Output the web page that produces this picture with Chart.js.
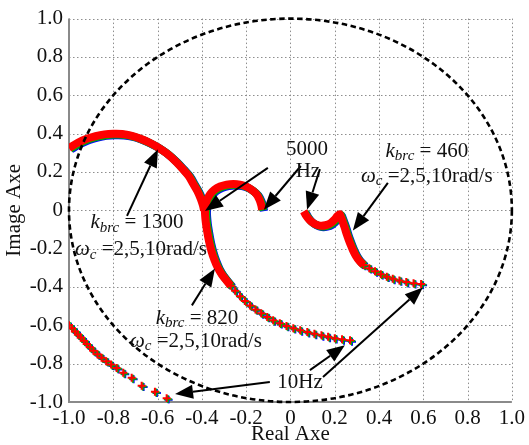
<!DOCTYPE html>
<html>
<head>
<meta charset="utf-8">
<script src="https://cdn.jsdelivr.net/npm/chart.js@4"></script>
<style>
  html, body { margin: 0; padding: 0; background: #fff; }
</style>
</head>
<body>
<canvas id="nyquist" width="529" height="445"></canvas>
<script>
// tick values shared by both axes
var axisTicks = [-1.0, -0.8, -0.6, -0.4, -0.2, 0, 0.2, 0.4, 0.6, 0.8, 1.0];

// kbrc = 1300 : sparse low-frequency part (ends at 10Hz) and dense arc (ends at 5000Hz)
var tail1300 = [[-1.0,-0.600],[-0.987,-0.615],[-0.973,-0.632],[-0.96,-0.648],[-0.947,-0.664],[-0.933,-0.68],[-0.92,-0.698],[-0.905,-0.715],[-0.89,-0.733],[-0.872,-0.751],[-0.853,-0.769],[-0.832,-0.787],[-0.81,-0.805],[-0.785,-0.823],[-0.755,-0.848],[-0.717,-0.874],[-0.672,-0.915],[-0.612,-0.946],[-0.559,-0.981]];
var arc1300 = [[-1.0,0.325],[-0.96,0.352],[-0.92,0.373],[-0.88,0.387],[-0.84,0.396],[-0.8,0.399],[-0.76,0.398],[-0.72,0.39],[-0.68,0.375],[-0.64,0.355],[-0.6,0.33],[-0.56,0.298],[-0.52,0.257],[-0.49,0.22],[-0.46,0.18],[-0.44,0.14],[-0.42,0.10],[-0.405,0.06],[-0.395,0.025],[-0.39,0.0]];

// kbrc = 820
var tail820 = [[0.269,-0.678],[0.233,-0.673],[0.2,-0.667],[0.17,-0.66],[0.14,-0.652],[0.108,-0.644],[0.076,-0.635],[0.044,-0.626],[0.013,-0.615],[-0.018,-0.603],[-0.048,-0.589],[-0.078,-0.574],[-0.105,-0.556],[-0.132,-0.537],[-0.158,-0.517],[-0.183,-0.496],[-0.206,-0.473],[-0.228,-0.448],[-0.25,-0.42],[-0.27,-0.393]];
var arc820 = [[-0.27,-0.393],[-0.29,-0.365],[-0.31,-0.335],[-0.328,-0.3],[-0.343,-0.26],[-0.356,-0.215],[-0.367,-0.165],[-0.376,-0.11],[-0.383,-0.055],[-0.386,0.0],[-0.38,0.045],[-0.363,0.084],[-0.343,0.108],[-0.318,0.124],[-0.288,0.134],[-0.258,0.137],[-0.228,0.134],[-0.198,0.123],[-0.173,0.105],[-0.153,0.083],[-0.14,0.055],[-0.132,0.028],[-0.128,0.003]];

// kbrc = 460
var tail460 = [[0.59,-0.384],[0.556,-0.38],[0.523,-0.374],[0.492,-0.366],[0.462,-0.357],[0.435,-0.346],[0.408,-0.333],[0.382,-0.318],[0.356,-0.302],[0.33,-0.285]];
var arc460 = [[0.33,-0.285],[0.31,-0.262],[0.295,-0.237],[0.283,-0.21],[0.272,-0.18],[0.262,-0.15],[0.254,-0.124],[0.245,-0.09],[0.236,-0.06],[0.228,-0.035],[0.222,-0.02],[0.212,-0.03],[0.198,-0.05],[0.18,-0.068],[0.158,-0.078],[0.133,-0.08],[0.108,-0.07],[0.088,-0.053],[0.072,-0.03],[0.06,-0.005]];

var curves = [
  { name: "kbrc=1300", tail: tail1300, arc: arc1300 },
  { name: "kbrc=820", tail: tail820, arc: arc820 },
  { name: "kbrc=460", tail: tail460, arc: arc460 }
];
var omegaC = ["10rad/s", "5rad/s", "2rad/s"];
var traceColors = ["#ff0000", "#00b000", "#0000ff"];
var traceShift = [[0, 0], [1.2, 0.8], [2, 1.4]];

var SERIF = "'Liberation Serif', 'Times New Roman', serif";

function toPts(arr) {
  return arr.map(function (p) { return { x: p[0], y: p[1] }; });
}

var datasets = [];
omegaC.forEach(function (w, i) {
  curves.forEach(function (c) {
    datasets.push({
      label: c.name + " " + w,
      data: toPts(c.arc),
      showLine: true,
      borderColor: traceColors[i],
      borderWidth: 8,
      tension: 0.3,
      pointRadius: 0,
      shift: traceShift[i]
    });
    datasets.push({
      label: c.name + " " + w + " markers",
      data: toPts(c.tail),
      showLine: false,
      pointStyle: "cross",
      pointRadius: 4,
      borderWidth: 2,
      borderColor: traceColors[i],
      backgroundColor: traceColors[i],
      shift: traceShift[i]
    });
  });
});

// small pixel offset so the three overlapping traces show as colour fringes
var shiftPlugin = {
  id: "shift",
  beforeDatasetDraw: function (chart, args) {
    var s = chart.data.datasets[args.index].shift;
    chart.ctx.save();
    if (s) chart.ctx.translate(s[0], s[1]);
  },
  afterDatasetDraw: function (chart) {
    chart.ctx.restore();
  }
};

// dotted grid, drawn at the axis ticks
var gridPlugin = {
  id: "dotgrid",
  beforeDatasetsDraw: function (chart) {
    var ctx = chart.ctx, a = chart.chartArea, xs = chart.scales.x, ys = chart.scales.y;
    ctx.save();
    ctx.strokeStyle = "#8e8e8e";
    ctx.lineWidth = 1;
    ctx.setLineDash([1.5, 2.5]);
    axisTicks.forEach(function (v) {
      var px = Math.round(xs.getPixelForValue(v)) + 0.5;
      var py = Math.round(ys.getPixelForValue(v)) + 0.5;
      ctx.beginPath();
      ctx.moveTo(px, a.top);
      ctx.lineTo(px, a.bottom);
      ctx.moveTo(a.left, py);
      ctx.lineTo(a.right, py);
      ctx.stroke();
    });
    // solid left and bottom axis lines
    ctx.setLineDash([]);
    ctx.strokeStyle = "#8a8a8a";
    ctx.lineWidth = 2;
    ctx.beginPath();
    ctx.moveTo(a.left, a.top);
    ctx.lineTo(a.left, a.bottom);
    ctx.lineTo(a.right, a.bottom);
    ctx.stroke();
    ctx.restore();
  }
};

// notes: text and arrows placed in data units
var notes = [
  { at: [-0.693, -0.065], parts: [["k", 1], ["brc", 3], [" = 1300", 0]] },
  { at: [-0.675, -0.205], parts: [["\u03c9", 1], ["c", 3], [" =2,5,10rad/s", 0]] },
  { at: [-0.422, -0.564], parts: [["k", 1], ["brc", 3], [" = 820", 0]] },
  { at: [-0.427, -0.683], parts: [["\u03c9", 1], ["c", 3], [" =2,5,10rad/s", 0]] },
  { at: [0.616, 0.309], parts: [["k", 1], ["brc", 3], [" = 460", 0]] },
  { at: [0.616, 0.179], parts: [["\u03c9", 1], ["c", 3], [" =2,5,10rad/s", 0]] },
  { at: [0.0745, 0.319], parts: [["5000", 0]] },
  { at: [0.079, 0.205], parts: [["Hz", 0]] },
  { at: [0.043, -0.896], parts: [["10Hz", 0]] }
];
var arrows = [
  [[-0.738, -0.029], [-0.598, 0.319]],
  [[-0.445, -0.496], [-0.341, -0.304]],
  [[0.44, 0.143], [0.282, -0.106]],
  [[-0.102, 0.221], [-0.386, -0.003]],
  [[0.047, 0.231], [-0.12, 0.003]],
  [[0.133, 0.215], [0.075, 0.003]],
  [[-0.093, -0.896], [-0.521, -0.958]],
  [[0.088, -0.834], [0.246, -0.704]],
  [[0.147, -0.87], [0.598, -0.403]]
];

var notesPlugin = {
  id: "notes",
  afterDatasetsDraw: function (chart) {
    var ctx = chart.ctx, xs = chart.scales.x, ys = chart.scales.y;
    var cx = xs.getPixelForValue(0), cy = ys.getPixelForValue(0);
    var rx = xs.getPixelForValue(1) - cx, ry = cy - ys.getPixelForValue(1);

    // unit circle
    ctx.save();
    ctx.strokeStyle = "#000";
    ctx.lineWidth = 2.6;
    ctx.setLineDash([5.5, 3.5]);
    ctx.beginPath();
    ctx.ellipse(cx, cy, rx, ry, 0, 0, Math.PI * 2);
    ctx.stroke();
    ctx.restore();

    // arrows
    ctx.save();
    ctx.strokeStyle = "#000";
    ctx.fillStyle = "#000";
    ctx.lineWidth = 2;
    arrows.forEach(function (a) {
      var x1 = xs.getPixelForValue(a[0][0]), y1 = ys.getPixelForValue(a[0][1]);
      var x2 = xs.getPixelForValue(a[1][0]), y2 = ys.getPixelForValue(a[1][1]);
      var ang = Math.atan2(y2 - y1, x2 - x1);
      var hl = 18, hw = 7;
      var bx = x2 - hl * Math.cos(ang), by = y2 - hl * Math.sin(ang);
      ctx.beginPath();
      ctx.moveTo(x1, y1);
      ctx.lineTo(bx, by);
      ctx.stroke();
      ctx.beginPath();
      ctx.moveTo(x2, y2);
      ctx.lineTo(bx + hw * Math.sin(ang), by - hw * Math.cos(ang));
      ctx.lineTo(bx - hw * Math.sin(ang), by + hw * Math.cos(ang));
      ctx.closePath();
      ctx.fill();
    });
    ctx.restore();

    // text
    ctx.save();
    ctx.fillStyle = "#111";
    ctx.textBaseline = "middle";
    ctx.textAlign = "left";
    notes.forEach(function (n) {
      var fonts = n.parts.map(function (p) {
        if (p[1] === 3) return "italic 15px " + SERIF;
        if (p[1] === 1) return "italic 21px " + SERIF;
        return "21px " + SERIF;
      });
      var total = 0, widths = [];
      n.parts.forEach(function (p, i) {
        ctx.font = fonts[i];
        widths.push(ctx.measureText(p[0]).width);
        total += widths[i];
      });
      var x = xs.getPixelForValue(n.at[0]) - total / 2;
      var y = ys.getPixelForValue(n.at[1]);
      n.parts.forEach(function (p, i) {
        ctx.font = fonts[i];
        ctx.fillText(p[0], x, y + (p[1] === 3 ? 5 : 0));
        x += widths[i];
      });
    });
    ctx.restore();
  }
};

function fmtTick(v) {
  return Math.abs(v) < 1e-9 ? "0" : v.toFixed(1);
}

function axis(title, size, isX) {
  return {
    type: "linear",
    min: -1,
    max: 1,
    afterBuildTicks: function (scale) {
      scale.ticks = axisTicks.map(function (v) { return { value: v }; });
    },
    afterFit: function (scale) {
      if (isX) scale.height = size; else scale.width = size;
    },
    ticks: {
      callback: fmtTick,
      color: "#111",
      padding: isX ? 4 : 6,
      maxRotation: 0,
      autoSkip: false,
      font: { family: SERIF, size: 21 }
    },
    grid: { display: false, drawTicks: false },
    border: { display: false },
    title: {
      display: true,
      text: title,
      color: "#111",
      font: { family: SERIF, size: 21 },
      padding: isX ? { top: 0, bottom: -2 } : { top: 2, bottom: 0 }
    }
  };
}

var ctx = document.getElementById("nyquist");
var nyquist = new Chart(ctx, {
  type: "scatter",
  data: { datasets: datasets },
  options: {
    responsive: false,
    animation: false,
    layout: { padding: { top: 17, right: 17, left: 0, bottom: 0 } },
    plugins: {
      legend: { display: false },
      tooltip: { enabled: false }
    },
    scales: {
      x: axis("Real Axe", 43, true),
      y: axis("Image Axe", 69, false)
    }
  },
  plugins: [gridPlugin, shiftPlugin, notesPlugin]
});
</script>
</body>
</html>
